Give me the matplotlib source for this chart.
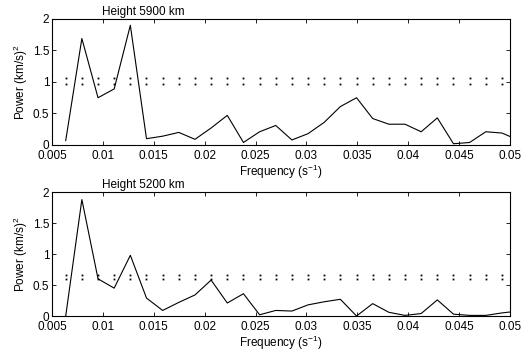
import numpy as np
import matplotlib.pyplot as plt

plt.rcParams['font.family'] = ['Liberation Sans', 'DejaVu Sans']
plt.rcParams['mathtext.fontset'] = 'custom'
plt.rcParams['mathtext.rm'] = 'Liberation Sans'

# frequency bins k/630 s^-1, k = 4..32 (last bin falls past the axis edge)
k = np.arange(4, 33)
freq = k / 630.0

power_5900 = [0.07, 1.69, 0.75, 0.89, 1.90, 0.10, 0.14, 0.20, 0.09, 0.27,
              0.47, 0.04, 0.21, 0.31, 0.08, 0.18, 0.36, 0.61, 0.75, 0.42,
              0.33, 0.33, 0.21, 0.43, 0.02, 0.04, 0.21, 0.19, 0.08]
power_5200 = [0.00, 1.88, 0.60, 0.45, 0.98, 0.29, 0.09, 0.22, 0.34, 0.58,
              0.21, 0.36, 0.02, 0.09, 0.08, 0.18, 0.23, 0.27, 0.00, 0.20,
              0.06, 0.01, 0.04, 0.26, 0.03, 0.01, 0.01, 0.05, 0.08]

# significance levels (upper / lower bound) drawn as dotted rows
levels_5900 = (1.06, 0.965)
levels_5200 = (0.67, 0.595)

heights = ['Height 5900 km', 'Height 5200 km']
xticks = np.arange(0.005, 0.0501, 0.005)
xticklabels = ['0.005', '0.01', '0.015', '0.02', '0.025', '0.03', '0.035',
               '0.04', '0.045', '0.05']
yticks = [0, 0.5, 1, 1.5, 2]
yticklabels = ['0', '0.5', '1', '1.5', '2']

fs = 8.5

fig = plt.figure(figsize=(5.32, 3.54), dpi=100)
ax1 = fig.add_axes([0.0977, 0.5904, 0.861, 0.356])
ax2 = fig.add_axes([0.0977, 0.1073, 0.861, 0.350])

for ax, p, lev, title in [(ax1, power_5900, levels_5900, heights[0]),
                          (ax2, power_5200, levels_5200, heights[1])]:
    ax.plot(freq, p, color='black', lw=0.8)
    fd = freq[:-1]
    for lv in lev:
        ax.plot(fd, np.full(len(fd), lv), ls='none', marker='s',
                ms=1.3, mfc='black', mec='none')
    ax.set_xlim(0.005, 0.05)
    ax.set_ylim(0, 2)
    ax.set_xticks(xticks)
    ax.set_xticklabels(xticklabels)
    ax.set_yticks(yticks)
    ax.set_yticklabels(yticklabels)
    ax.tick_params(direction='in', top=True, right=True, length=3,
                   width=0.6, labelsize=fs)
    ax.tick_params(axis='x', pad=3.5)
    ax.tick_params(axis='y', pad=2)
    for s in ax.spines.values():
        s.set_linewidth(0.8)
    ax.set_xlabel('Frequency (s$^{-1}$)', fontsize=fs, labelpad=0.5)
    ax.set_ylabel('Power (km/s)$^2$', fontsize=fs, labelpad=2)
    ax.text(0.199, 1.005, title, transform=ax.transAxes, ha='center',
            va='bottom', fontsize=fs)

fig.savefig('out.png', dpi=100)
